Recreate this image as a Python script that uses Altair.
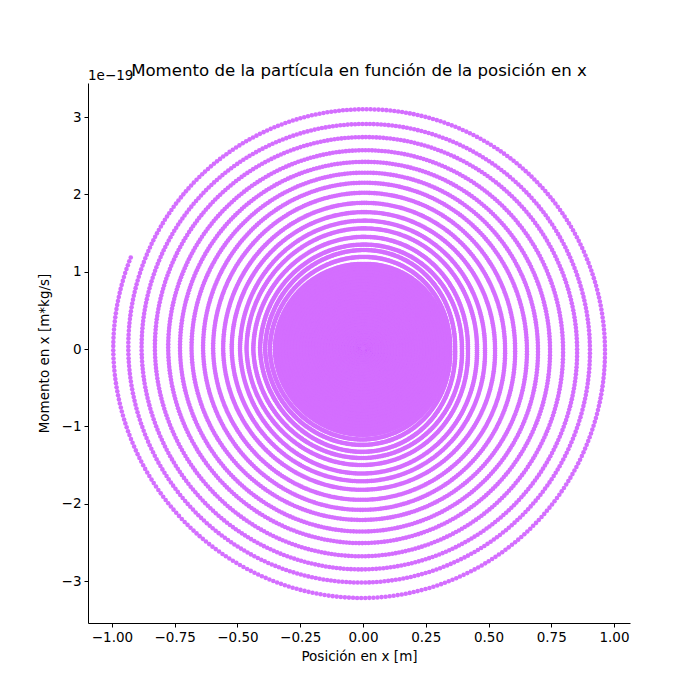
import numpy as np
import pandas as pd
import altair as alt

# ---- values -----------------------------------------------------------
# outermost end of the trajectory (start point)
start_x, start_p = -0.93, 1.19
# successive extremes of each visible turn (x in m, p in 1e-19 m*kg/s)
left_x = [0.995, 0.935, 0.882, 0.829, 0.776, 0.729, 0.683, 0.637, 0.597,
          0.557, 0.523, 0.490, 0.464, 0.437, 0.410, 0.390, 0.371, 0.351]
bottom_p = [3.22, 3.02, 2.85, 2.68, 2.51, 2.36, 2.21, 2.08, 1.95,
            1.82, 1.71, 1.61, 1.50, 1.41, 1.33, 1.24, 1.17, 1.11]
right_x = [0.964, 0.904, 0.853, 0.797, 0.745, 0.697, 0.653, 0.606, 0.566,
           0.526, 0.486, 0.454, 0.418, 0.394, 0.367, 0.347, 0.335, 0.326]
top_p = [3.10, 2.91, 2.74, 2.57, 2.42, 2.28, 2.15, 2.02, 1.89,
         1.77, 1.66, 1.56, 1.45, 1.35, 1.28, 1.19, 1.10, 1.06]
# turns inside the solid core (estimated)
inner_left = [0.340, 0.329, 0.317, 0.305, 0.293, 0.281, 0.269, 0.257, 0.245,
              0.233, 0.221, 0.209, 0.197, 0.185, 0.173, 0.161, 0.149, 0.137,
              0.125, 0.113, 0.101, 0.089, 0.077, 0.065, 0.053, 0.041, 0.029,
              0.018, 0.008]
inner_right = [0.316, 0.306, 0.295, 0.284, 0.273, 0.262, 0.251, 0.240, 0.229,
               0.218, 0.207, 0.196, 0.185, 0.173, 0.161, 0.149, 0.137, 0.125,
               0.113, 0.101, 0.089, 0.077, 0.065, 0.053, 0.041, 0.030, 0.020,
               0.012, 0.005]
inner_bottom = [1.07, 1.03, 0.99, 0.95, 0.91, 0.87, 0.83, 0.79, 0.75,
                0.71, 0.67, 0.63, 0.59, 0.55, 0.51, 0.47, 0.43, 0.39,
                0.35, 0.31, 0.27, 0.23, 0.19, 0.16, 0.13, 0.10, 0.07,
                0.04, 0.02]
inner_top = [1.03, 0.99, 0.95, 0.91, 0.87, 0.83, 0.79, 0.75, 0.71,
             0.67, 0.63, 0.59, 0.55, 0.51, 0.47, 0.43, 0.39, 0.35,
             0.31, 0.27, 0.23, 0.20, 0.17, 0.14, 0.11, 0.08, 0.05,
             0.03, 0.01]

x_ticks = [-1.0, -0.75, -0.5, -0.25, 0.0, 0.25, 0.5, 0.75, 1.0]
y_ticks = [-3, -2, -1, 0, 1, 2, 3]

title_text = "Momento de la partícula en función de la posición en x"
offset_label = "1e\u221219"

# ---- build the trajectory through the read extremes ---------------------
L = left_x + inner_left
R = right_x + inner_right
B = bottom_p + inner_bottom
T = top_p + inner_top
n = len(L)
x_ang, x_amp, p_ang, p_amp = [], [], [], []
for k in range(n):
    x_ang += [180 + 360 * k, 360 + 360 * k]
    x_amp += [L[k], R[k]]
    p_ang += [270 + 360 * k, 450 + 360 * k]
    p_amp += [B[k], T[k]]
phi0 = np.degrees(np.arctan2(start_p / B[0], start_x / L[0]))
phi = np.arange(phi0, 360 * n + 90, 0.95)
a = np.interp(phi, x_ang, x_amp)
b = np.interp(phi, p_ang, p_amp)
rad = np.radians(phi)
df = pd.DataFrame({"x": a * np.cos(rad), "p": b * np.sin(rad)})

FONT = "DejaVu Sans"
W, H = 542, 540

points = alt.Chart(df).mark_circle(size=21, color="#d46eff", opacity=1).encode(
    x=alt.X("x:Q",
            scale=alt.Scale(domain=[-1.0956, 1.0637], nice=False, zero=False),
            axis=alt.Axis(values=x_ticks, format=".2f", title="Posición en x [m]",
                          grid=False, domainColor="black", tickColor="black",
                          tickSize=4, labelPadding=3, labelFontSize=13.5,
                          labelColor="black", labelFont=FONT, titleFont=FONT,
                          titleFontSize=13.5, titleFontWeight="normal",
                          titleColor="black", titlePadding=6)),
    y=alt.Y("p:Q",
            scale=alt.Scale(domain=[-3.543, 3.44], nice=False, zero=False),
            axis=alt.Axis(values=y_ticks, format="d", title="Momento en x [m*kg/s]",
                          grid=False, domainColor="black", tickColor="black",
                          tickSize=4, labelPadding=3, labelFontSize=13.5,
                          labelColor="black", labelFont=FONT, titleFont=FONT,
                          titleFontSize=13.5, titleFontWeight="normal",
                          titleColor="black", titlePadding=10)),
)

offset_text = alt.Chart(pd.DataFrame({"t": [offset_label]})).mark_text(
    align="left", baseline="alphabetic", fontSize=13.5, font=FONT, color="black"
).encode(x=alt.value(0), y=alt.value(-3), text="t:N")

title_mark = alt.Chart(pd.DataFrame({"t": [title_text]})).mark_text(
    align="center", baseline="alphabetic", fontSize=16.6, font=FONT, color="black"
).encode(x=alt.value(W / 2), y=alt.value(-7), text="t:N")

chart = alt.layer(points, offset_text, title_mark).properties(
    width=W, height=H,
    autosize=alt.AutoSizeParams(type="none"),
    padding={"left": 80, "top": 75, "right": 62, "bottom": 69},
).configure_view(stroke=None)

chart.save("out.html", embed_options={"renderer": "svg", "actions": False})
